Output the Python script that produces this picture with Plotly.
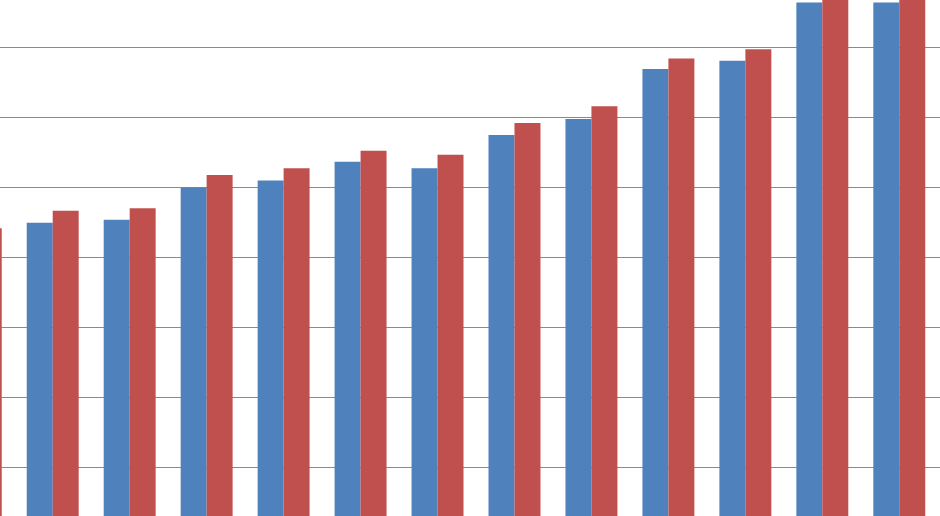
import plotly.graph_objects as go

categories = ["G0", "G1", "G2", "G3", "G4", "G5", "G6", "G7", "G8", "G9", "G10", "G11", "G12"]
series_blue = [42.6, 45.0, 45.4, 50.0, 51.0, 53.7, 52.75, 57.5, 59.8, 66.9, 68.1, 76.4, 76.4]
series_red = [44.2, 46.7, 47.05, 51.8, 52.75, 55.25, 54.7, 59.2, 61.6, 68.4, 69.75, 78.5, 78.5]

fig = go.Figure()
fig.add_trace(go.Bar(x=categories, y=series_blue, marker=dict(color="#4F81BD", line=dict(width=0)), name="A"))
fig.add_trace(go.Bar(x=categories, y=series_red, marker=dict(color="#C0504D", line=dict(width=0)), name="B"))

fig.update_layout(
    width=940, height=516,
    margin=dict(l=0, r=0, t=0, b=0),
    paper_bgcolor="white", plot_bgcolor="white",
    barmode="group", bargap=0.325, bargroupgap=0,
    showlegend=False,
    xaxis=dict(type="category", range=[0.315, 12.529], showticklabels=False,
               showgrid=False, zeroline=False, showline=False, ticks=""),
    yaxis=dict(range=[3.15, 76.76], tick0=0, dtick=10, showticklabels=False,
               showgrid=True, gridcolor="#8a8a8a", gridwidth=1, zeroline=False,
               showline=False, ticks=""),
)

fig.write_html(
    "out.html",
    config={"displayModeBar": False, "staticPlot": True},
    post_script="document.body.style.margin='0';document.body.style.padding='0';document.body.style.overflow='hidden';",
)
